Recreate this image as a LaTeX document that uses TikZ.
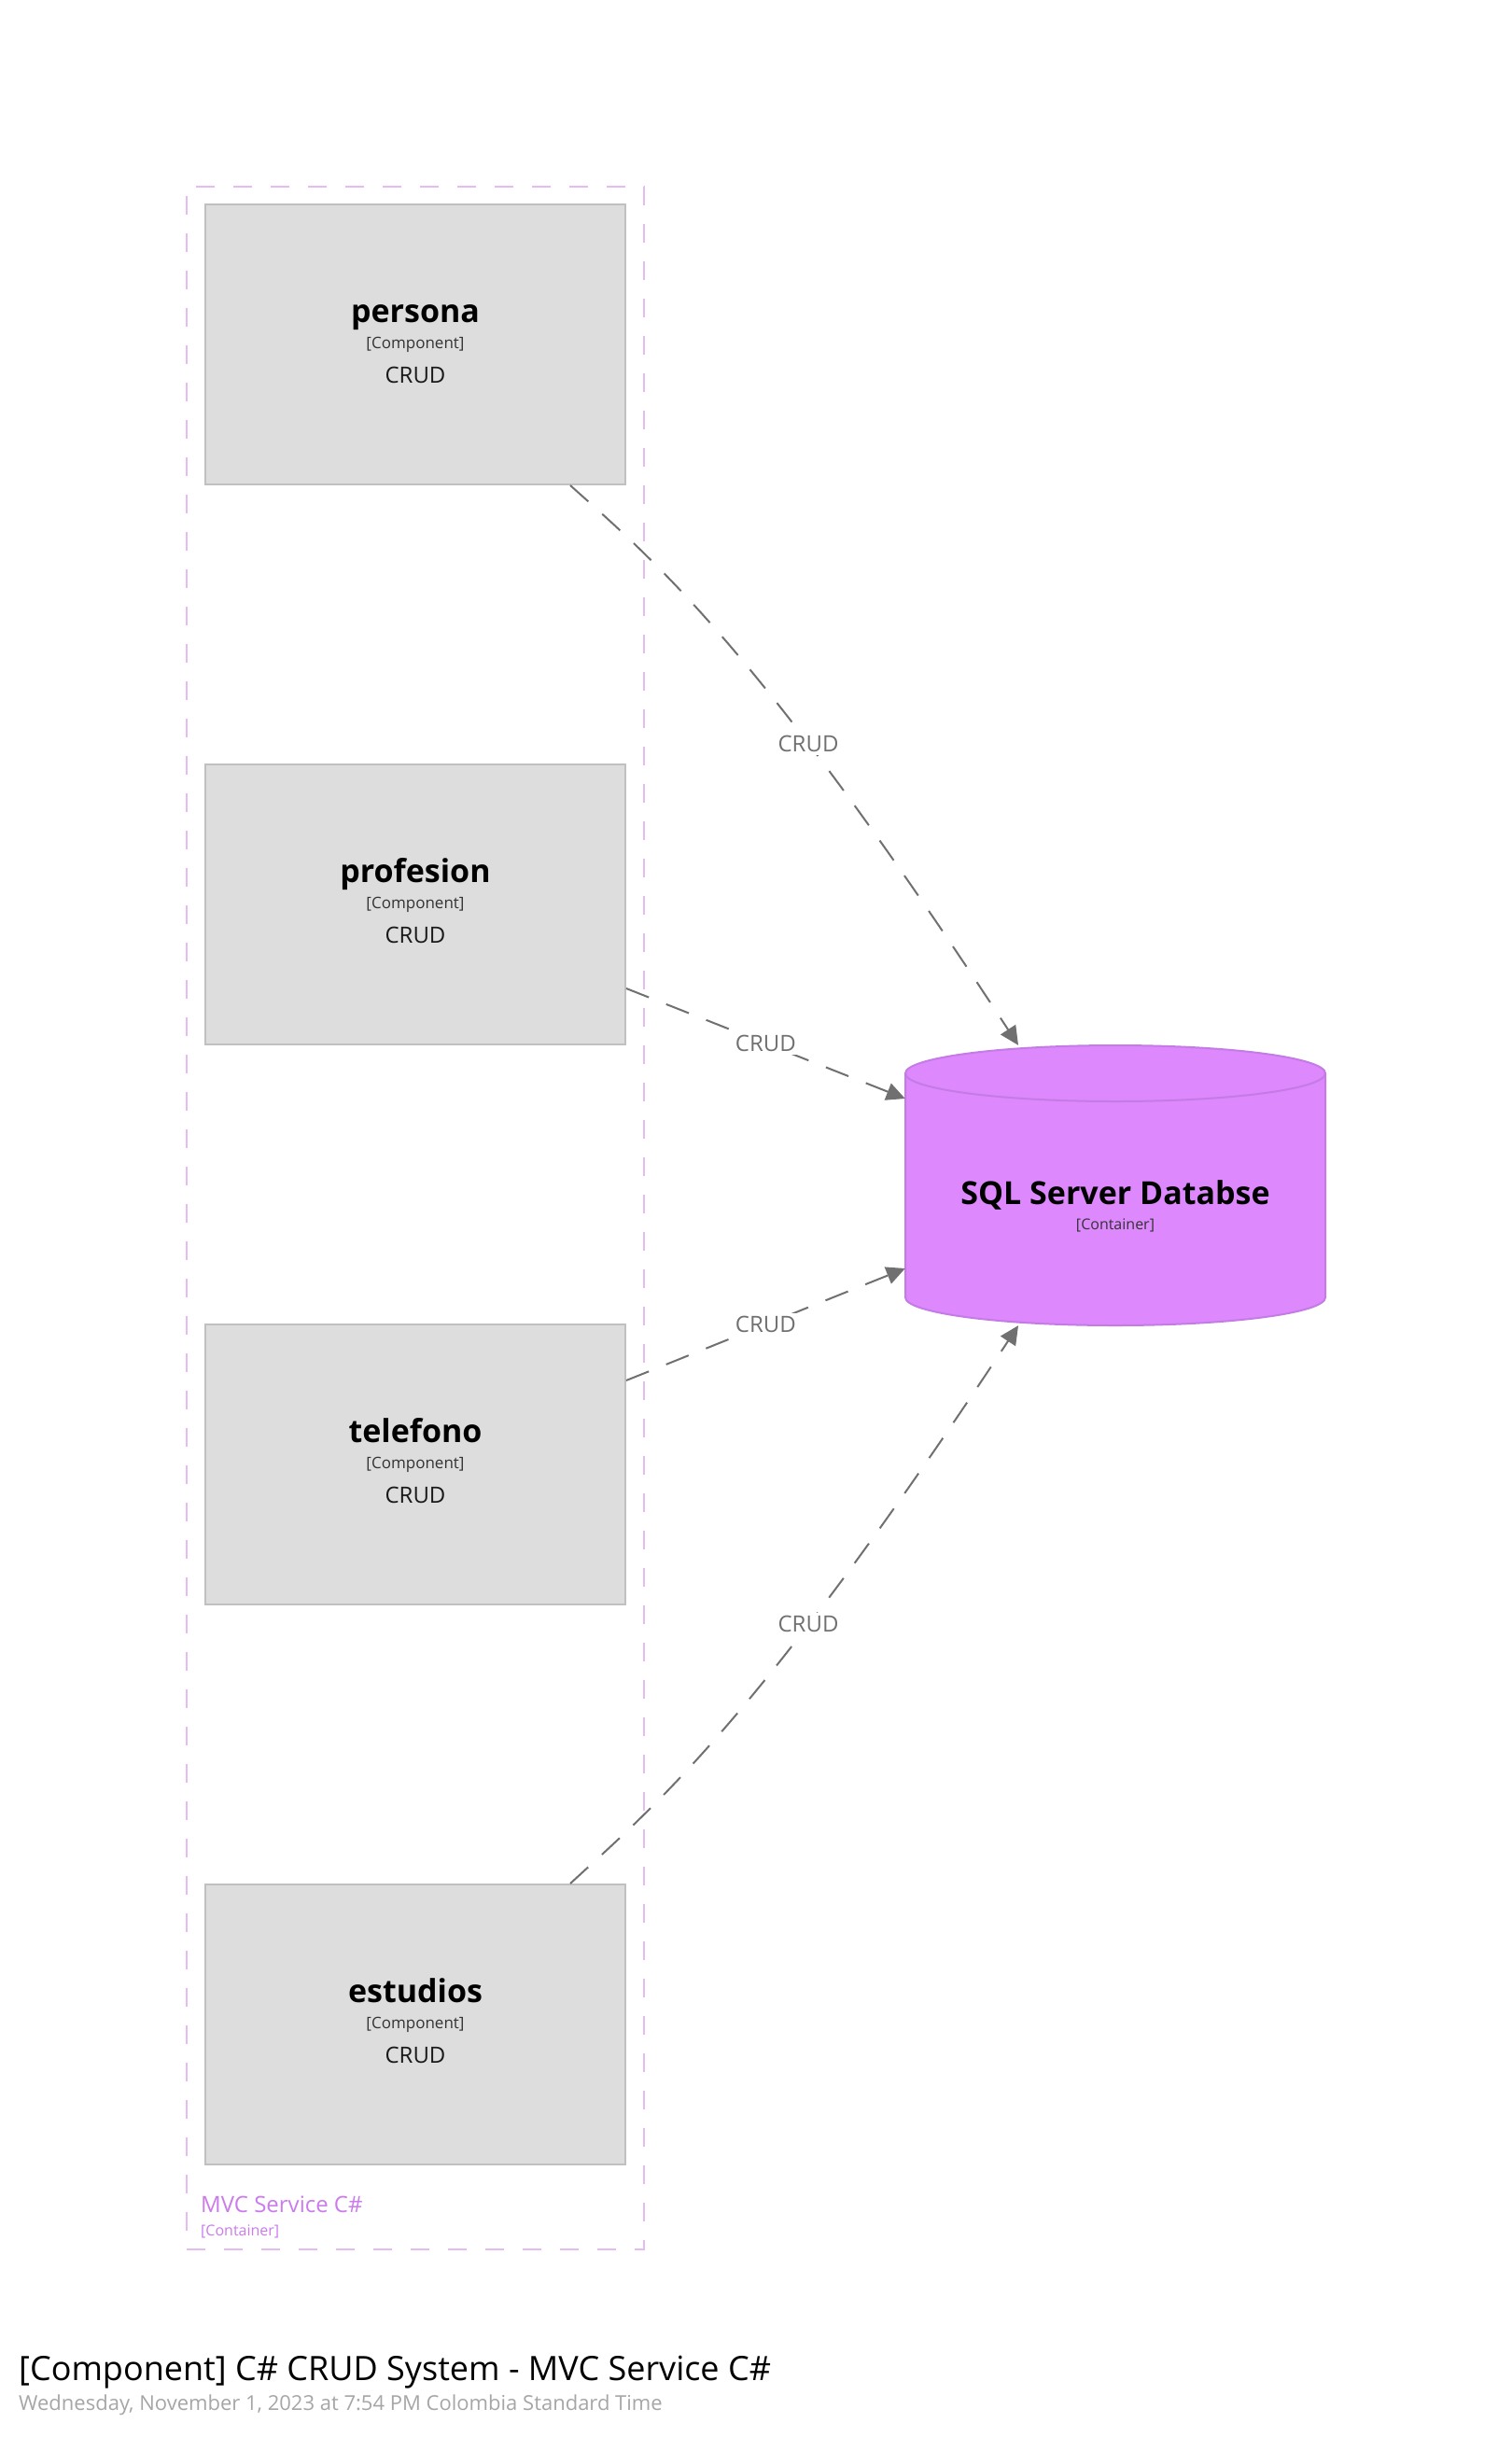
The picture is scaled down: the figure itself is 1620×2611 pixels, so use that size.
\documentclass[tikz,border=0pt]{standalone}
\usepackage{fontspec}
\setmainfont{Open Sans}
\usetikzlibrary{arrows.meta}
\definecolor{boxfill}{HTML}{DDDDDD}
\definecolor{boxline}{HTML}{C0C0C0}
\definecolor{dbfill}{HTML}{DD88FC}
\definecolor{dbline}{HTML}{C57BE6}
\definecolor{contline}{HTML}{E4BCF2}
\definecolor{conttext}{HTML}{CB7BEC}
\definecolor{linegray}{HTML}{707070}
\definecolor{dategray}{HTML}{A6A6A6}
\tikzset{
  comp/.style={rectangle, draw=boxline, fill=boxfill, line width=2pt, minimum width=450pt, minimum height=300pt, inner sep=0pt},
  compname/.style={font=\fontsize{34}{40}\selectfont\bfseries, inner sep=0pt, anchor=base},
  comptype/.style={font=\fontsize{17}{20}\selectfont, text=black!80, inner sep=0pt},
  compdesc/.style={font=\fontsize{24}{28}\selectfont, text=black!90, inner sep=0pt},
  conn/.style={draw=linegray, line width=2pt, dash pattern=on 26pt off 20pt, -{Triangle[length=20pt,width=19pt]}, fill=none},
  lab/.style={fill=white, text=linegray, font=\fontsize{24}{28}\selectfont, inner sep=3pt},
  contbox/.style={rectangle, draw=contline, line width=2pt, dash pattern=on 20pt off 20pt, minimum width=490pt, minimum height=2210pt, inner sep=0pt},
}
\begin{document}
\begin{tikzpicture}[x=1pt,y=-1pt]
\useasboundingbox (0,0) rectangle (1620,2611);
\fill[white] (0,0) rectangle (1620,2611);

% container boundary
\node[contbox] (mvc) at (445,1305) {};
\node[anchor=west, inner sep=0pt, text=conttext, font=\fontsize{24}{28}\selectfont] (mvcname) at (215,2362) {MVC Service C\#};
\node[anchor=west, inner sep=0pt, text=conttext, font=\fontsize{16}{19}\selectfont] (mvctype) at (215,2391) {[Container]};

% components
\foreach \nm/\cy in {persona/369, profesion/969, telefono/1569, estudios/2169}{
  \node[comp] (\nm) at (445,\cy) {};
  \node[compname] (\nm N) at ([yshift=24pt]\nm.center) {\nm};
  \node[comptype] (\nm T) at ([yshift=0pt]\nm.center) {[Component]};
  \node[compdesc] (\nm D) at ([yshift=-33pt]\nm.center) {CRUD};
}

% database cylinder
\path[fill=dbfill, draw=dbline, line width=2pt]
  (970,1150) -- (970,1390) arc[start angle=180, end angle=0, x radius=225, y radius=30]
  -- (1420,1150) arc[start angle=0, end angle=-180, x radius=225, y radius=30] -- cycle;
\draw[dbline, line width=2pt] (970,1150) arc[start angle=180, end angle=0, x radius=225, y radius=30];
\node[rectangle, minimum width=450pt, minimum height=300pt, inner sep=0pt] (db) at (1195,1270) {};
\node[font=\fontsize{34}{40}\selectfont\bfseries, inner sep=0pt] (dbN) at (1195,1280) {SQL Server Databse};
\node[font=\fontsize{16}{19}\selectfont, text=black!80, inner sep=0pt] (dbT) at (1195,1313) {[Container]};

% connectors
\draw[conn] ([xshift=166pt]persona.south) .. controls (700,600) and (810,690) .. ([xshift=-104pt]db.north)
  node[lab, pos=0.675] (l1) {CRUD};
\draw[conn] ([yshift=-90pt]profesion.east) -- ([yshift=93pt]db.west)
  node[lab, pos=0.5] (l2) {CRUD};
\draw[conn] ([yshift=90pt]telefono.east) -- ([yshift=-89pt]db.west)
  node[lab, pos=0.5] (l3) {CRUD};
\draw[conn] ([xshift=166pt]estudios.north) .. controls (700,1936) and (810,1846) .. ([xshift=-104pt]db.south)
  node[lab, pos=0.675] (l4) {CRUD};

% title
\node[anchor=west, inner sep=0pt, font=\fontsize{36}{42}\selectfont] (title) at (20,2542) {[Component] C\# CRUD System - MVC Service C\#};
\node[anchor=west, inner sep=0pt, text=dategray, font=\fontsize{22}{26}\selectfont] (date) at (20,2577) {Wednesday, November 1, 2023 at 7:54 PM Colombia Standard Time};
\end{tikzpicture}
\end{document}
